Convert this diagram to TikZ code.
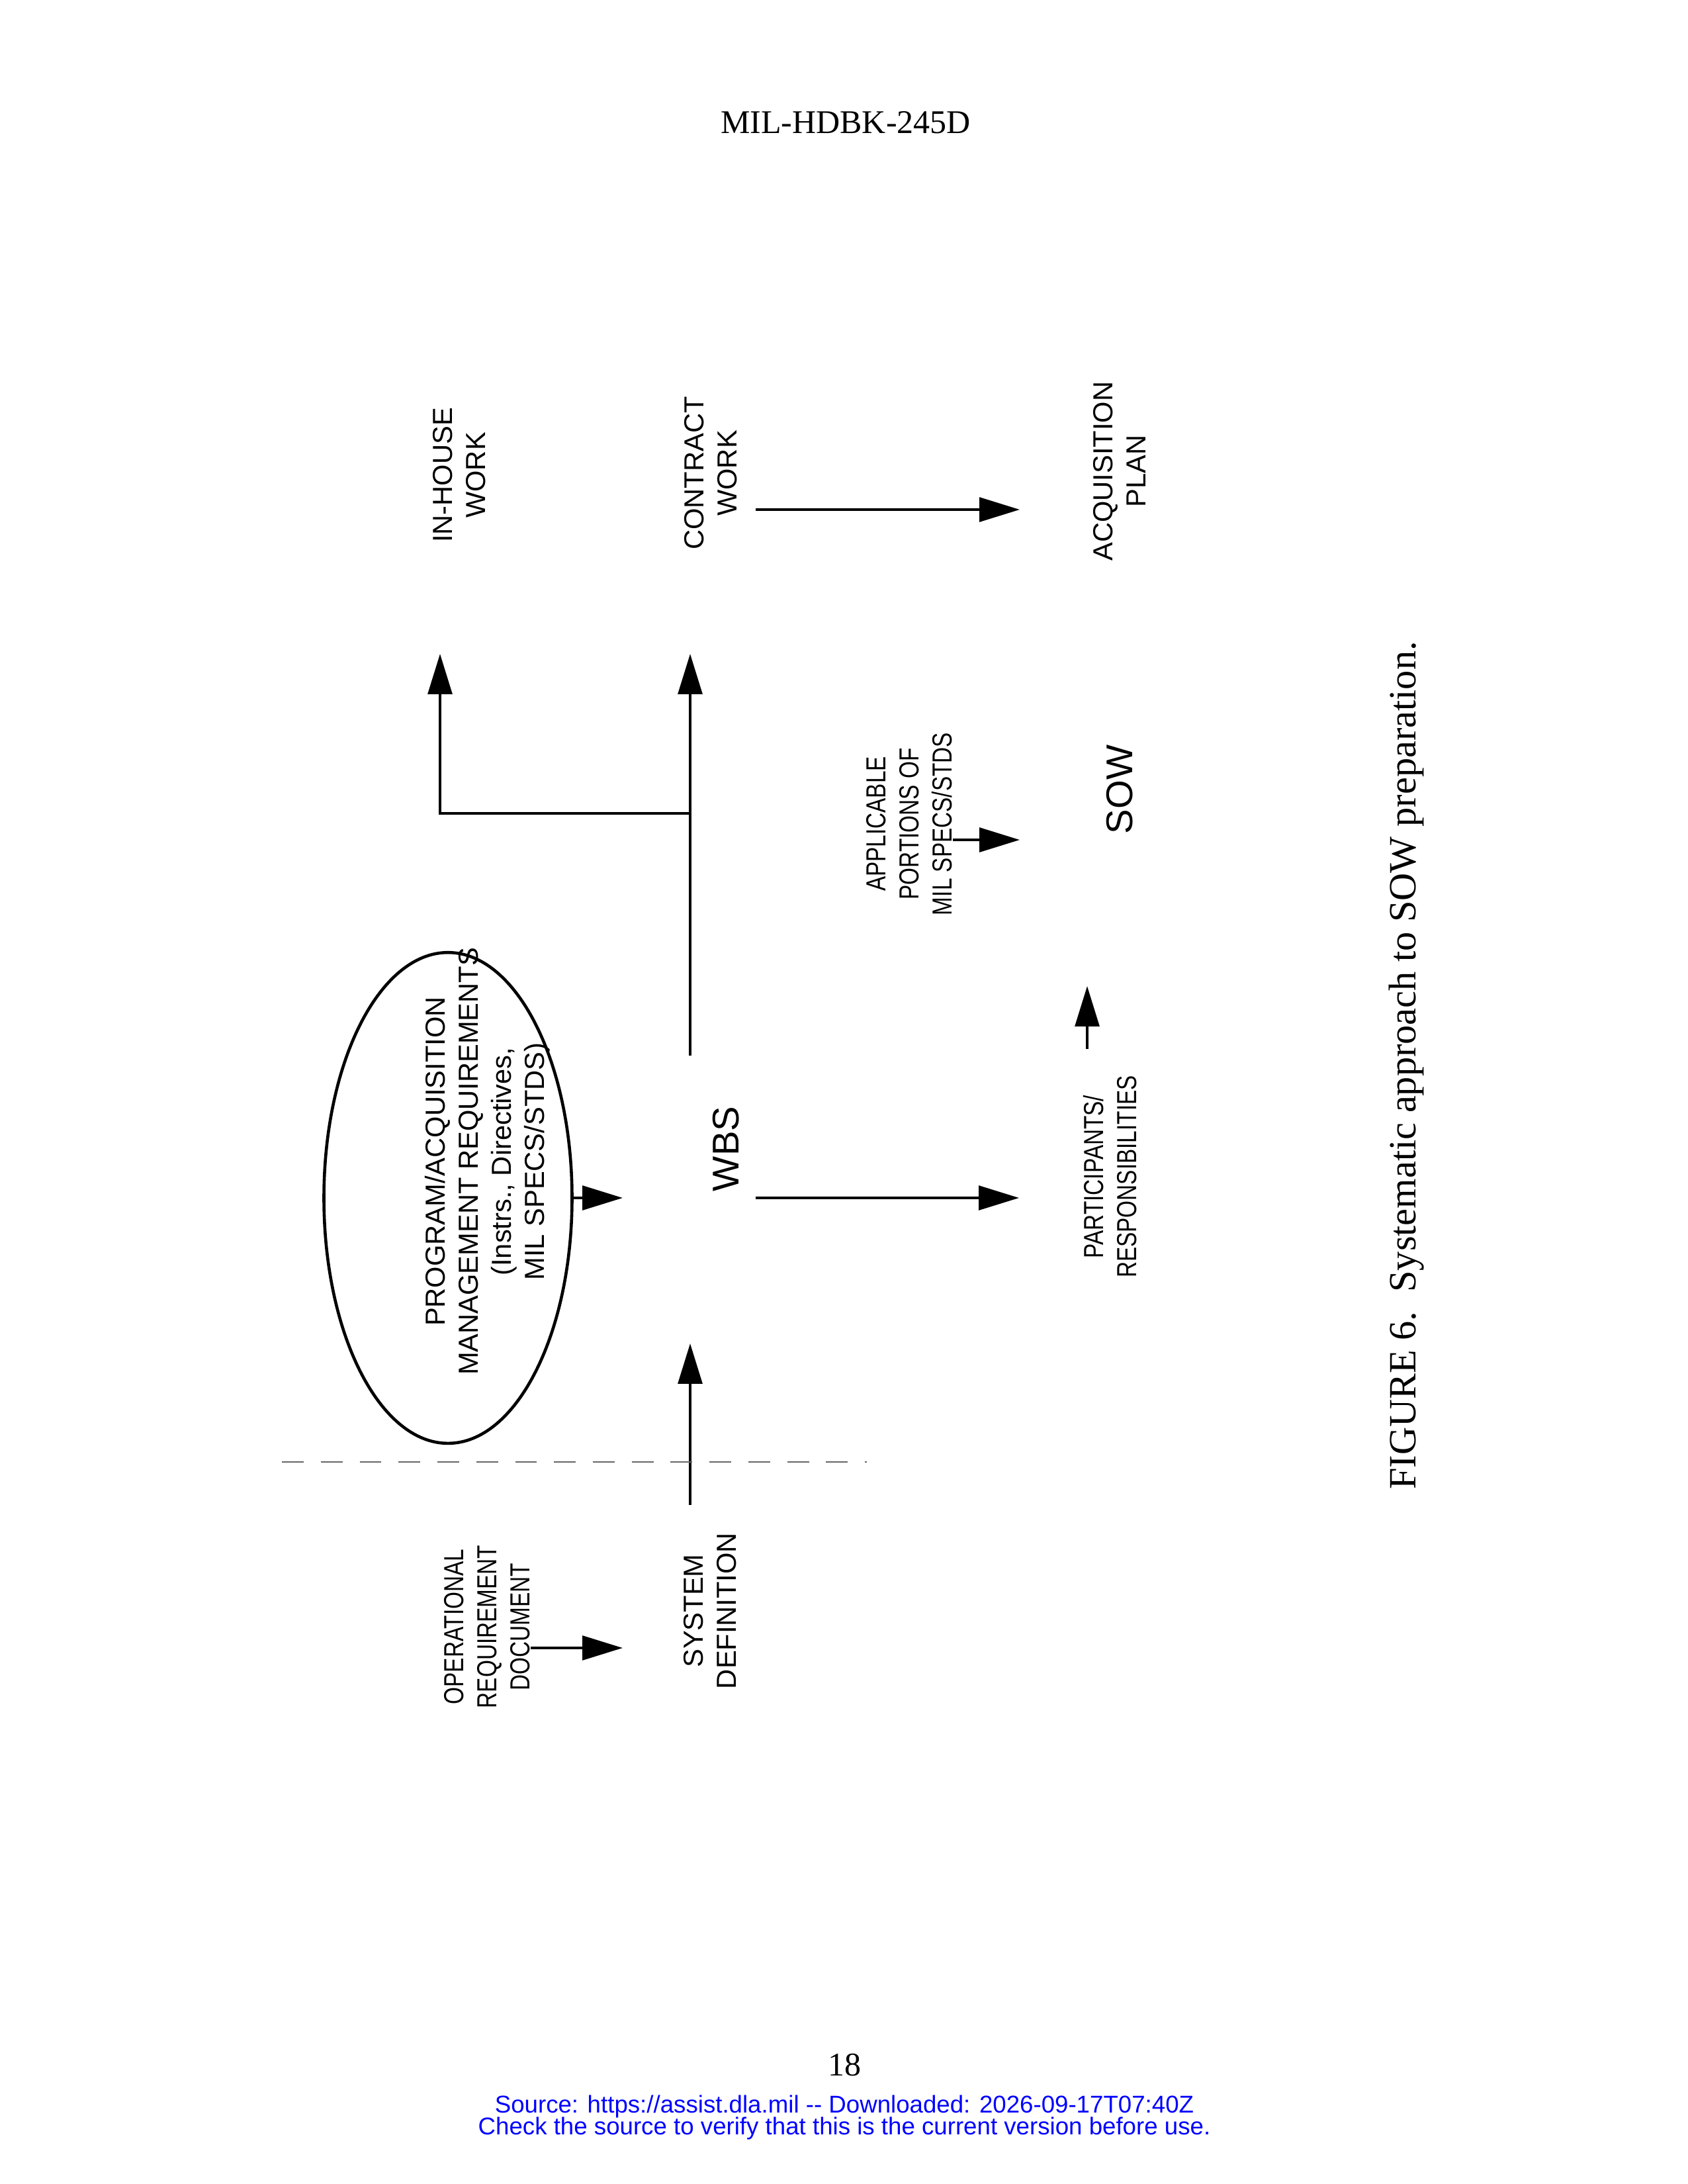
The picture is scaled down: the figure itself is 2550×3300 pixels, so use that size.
\documentclass[tikz,border=0pt]{standalone}
\usepackage{fontspec}
\setmainfont{Liberation Serif}
\setsansfont{Liberation Sans}
\newfontfamily\narrowfont[FakeStretch=0.8]{Liberation Sans}
\usetikzlibrary{positioning}
\usetikzlibrary{arrows.meta}
\usetikzlibrary{shapes.geometric}
\tikzset{>={Triangle[length=14.6pt,width=8.8pt]}}
\tikzset{flow/.style={->,line width=0.9pt}}
\tikzset{lbl/.style={rotate=90,align=center,inner sep=0pt,font=\sffamily\fontsize{10}{12}\selectfont}}
\tikzset{narrowlbl/.style={lbl,font=\narrowfont\fontsize{10}{12}\selectfont}}
\tikzset{biglbl/.style={rotate=90,inner sep=0pt,font=\sffamily\fontsize{13.5}{16}\selectfont}}
\tikzset{phaseline/.style={draw=black!60,line width=0.5pt,dash pattern=on 7.9pt off 6.2pt}}
\tikzset{pagetext/.style={inner sep=0pt,font=\rmfamily\fontsize{12}{14}\selectfont}}
\tikzset{srcline/.style={inner sep=0pt,text=blue,font=\sffamily\fontsize{8.8}{10}\selectfont}}

\begin{document}
\begin{tikzpicture}[x=0.24pt,y=-0.24pt]
\fill[white] (0,0) rectangle (2550,3300);
\useasboundingbox (0,0) rectangle (2550,3300);

\node (hdr) [pagetext] at (1278,185) {MIL-HDBK-245D};

% top row
\node (inhouse) [lbl] at (694,718) {IN-HOUSE\\WORK};
\node (contract) [lbl] at (1074,715) {CONTRACT\\WORK};
\node (acqplan) [lbl] at (1692,712) {ACQUISITION\\PLAN};

\node (applic) [narrowlbl] at (1374,1245) {APPLICABLE\\PORTIONS OF\\MIL SPECS/STDS};
\node (sow) [biglbl] at (1692,1193) {SOW};

% middle row
\node (pmr) [draw,ellipse,line width=1.1pt,minimum width=90pt,minimum height=178pt,inner sep=0pt] at (677,1810) {};
\node (pmrtext) [lbl] at (737,1755) {PROGRAM/ACQUISITION\\MANAGEMENT REQUIREMENTS\\(Instrs., Directives,\\MIL SPECS/STDS)};
\node (wbs) [biglbl] at (1097,1736) {WBS};
\node (partresp) [narrowlbl] at (1678,1778) {PARTICIPANTS/\\RESPONSIBILITIES};

% bottom row
\node (ord) [narrowlbl] at (736,2458) {OPERATIONAL\\REQUIREMENT\\DOCUMENT};
\node (sysdef) [lbl] at (1073,2434) {SYSTEM\\DEFINITION};

\node (caption) [pagetext,rotate=90,font=\rmfamily\fontsize{14}{16}\selectfont] at (2126,1610) {FIGURE 6.\hspace{0.5em}Systematic approach to SOW preparation.};
\node (pagenum) [pagetext] at (1276,3120) {18};
\node (src1) [srcline] at (1276,3183) {Source: https://assist.dla.mil -{}- Downloaded: 2026-09-17T07:40Z};
\node (src2) [srcline] at (1276,3216) {Check the source to verify that this is the current version before use.};

\coordinate (acqin) at (1541,770);
\coordinate (sowin) at (1541,1269);
\coordinate (sowbot) at (1643,1490);
\coordinate (prin) at (1540,1810);
\coordinate (wbsin) at (941,1810);
\coordinate (split) at (1043,1229);
\coordinate (ctin) at (1043,988);
\coordinate (ihin) at (665,988);
\coordinate (wbsbot) at (1043,2030);
\coordinate (sysin) at (941,2490);

\draw[flow,shorten <=6.5pt] (contract.south |- acqin) -- (acqin);
\draw[flow] (applic.south |- sowin) -- (sowin);
\draw[flow,shorten <=9.4pt] (partresp.east -| sowbot) -- (sowbot);

\draw[flow] (pmr.east) -- (wbsin);
\draw[flow,shorten <=5.8pt] (wbs.south |- prin) -- (prin);
\draw[flow,shorten <=18.2pt] (wbs.east -| split) -- (ctin);
\draw[flow] (split) -| (ihin);

\draw[flow,shorten <=9.8pt] (sysdef.east -| wbsbot) -- (wbsbot);
\draw[flow] (ord.south |- sysin) -- (sysin);

\draw[phaseline] (426,2209) -- (1310,2209);
\end{tikzpicture}
\end{document}
